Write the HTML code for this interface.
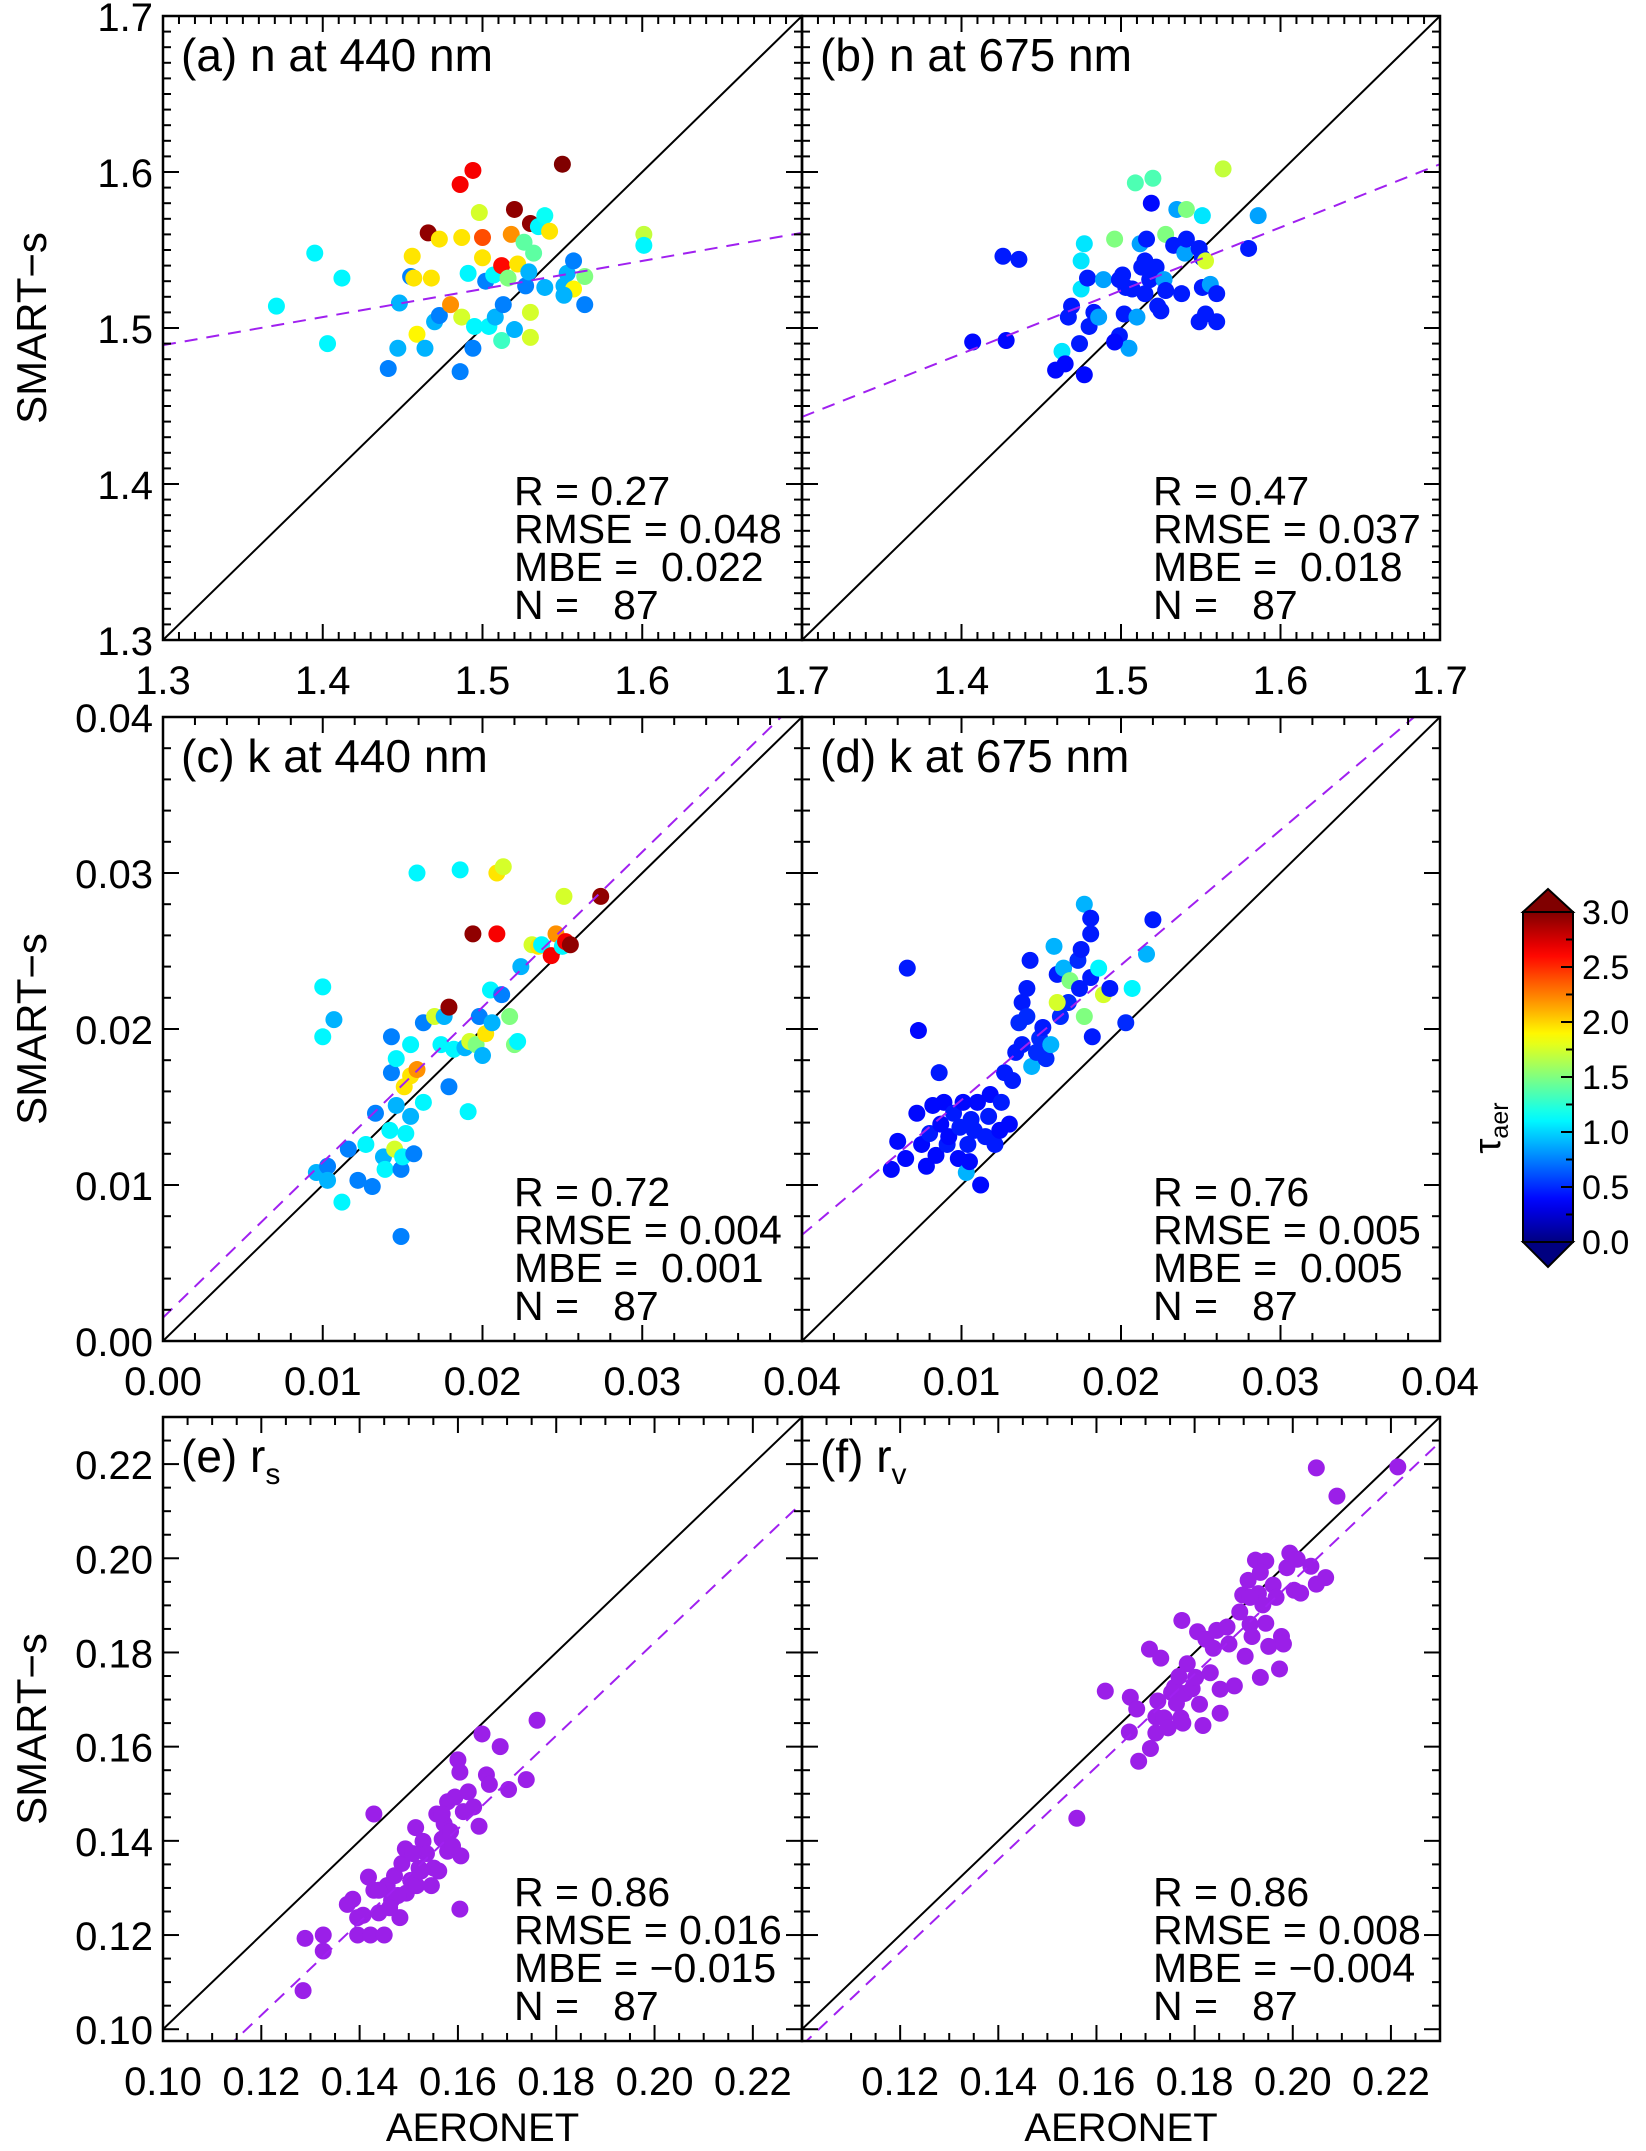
<!DOCTYPE html>
<html><head><meta charset="utf-8"><title>SMART-s vs AERONET</title>
<style>
html,body{margin:0;padding:0;background:#fff;}
svg{display:block;font-family:"Liberation Sans",sans-serif;}
</style></head>
<body>
<svg id="chart" width="1646" height="2151" viewBox="0 0 1646 2151" xmlns="http://www.w3.org/2000/svg"></svg>
<script>
// ---------- DATA ----------
const aX=[1.371,1.395,1.403,1.412,1.441,1.447,1.448,1.455,1.456,1.457,1.459,1.464,1.466,1.468,1.470,1.473,1.473,1.480,1.486,1.487,1.486,1.487,1.491,1.494,1.494,1.495,1.498,1.500,1.500,1.502,1.504,1.507,1.508,1.512,1.512,1.513,1.516,1.518,1.520,1.522,1.520,1.526,1.527,1.529,1.530,1.530,1.530,1.532,1.535,1.539,1.539,1.542,1.550,1.551,1.553,1.557,1.557,1.564,1.564,1.601,1.601,1.551];
const aY=[1.514,1.548,1.490,1.532,1.474,1.487,1.516,1.533,1.546,1.532,1.496,1.487,1.561,1.532,1.504,1.557,1.508,1.515,1.592,1.558,1.472,1.507,1.535,1.601,1.487,1.501,1.574,1.558,1.545,1.530,1.501,1.534,1.507,1.540,1.492,1.515,1.532,1.560,1.576,1.541,1.499,1.555,1.527,1.536,1.567,1.510,1.494,1.548,1.565,1.572,1.526,1.562,1.605,1.527,1.535,1.525,1.543,1.533,1.515,1.560,1.553,1.521];
const aT=[1.1,1.1,1.1,1.1,0.75,0.9,0.9,0.75,1.95,1.95,1.9,0.9,2.95,1.95,0.9,1.95,0.75,2.2,2.65,1.95,0.75,1.75,1.1,2.65,0.75,1.1,1.75,2.4,1.95,0.75,1.1,1.1,0.9,2.6,1.3,0.75,1.5,2.2,2.95,1.95,0.9,1.4,0.75,0.9,2.95,1.75,1.75,1.4,1.1,1.15,0.9,1.95,3.0,0.9,0.9,1.9,0.75,1.5,0.75,1.7,1.1,0.9];
const bX=[1.407,1.428,1.426,1.436,1.459,1.463,1.465,1.467,1.469,1.474,1.475,1.475,1.477,1.477,1.479,1.480,1.483,1.486,1.489,1.496,1.499,1.499,1.501,1.502,1.503,1.505,1.507,1.509,1.510,1.512,1.513,1.515,1.516,1.518,1.519,1.520,1.522,1.523,1.525,1.527,1.528,1.528,1.533,1.535,1.538,1.540,1.541,1.541,1.549,1.549,1.551,1.551,1.551,1.553,1.553,1.556,1.560,1.560,1.564,1.580,1.586,1.515,1.496];
const bY=[1.491,1.492,1.546,1.544,1.473,1.485,1.477,1.507,1.514,1.490,1.525,1.543,1.554,1.470,1.532,1.501,1.510,1.507,1.531,1.557,1.531,1.495,1.534,1.509,1.526,1.487,1.525,1.593,1.507,1.554,1.539,1.522,1.557,1.531,1.580,1.596,1.539,1.514,1.511,1.531,1.560,1.524,1.553,1.576,1.522,1.548,1.557,1.576,1.504,1.551,1.545,1.572,1.526,1.543,1.509,1.528,1.504,1.522,1.602,1.551,1.572,1.543,1.491];
const bT=[0.4,0.4,0.45,0.45,0.4,1.05,0.4,0.45,0.45,0.45,1.05,1.05,1.05,0.4,0.45,0.45,0.45,0.85,0.85,1.5,0.45,0.45,0.45,0.45,0.45,0.85,0.45,1.35,0.85,0.85,0.45,0.45,0.45,0.45,0.4,1.35,0.45,0.45,0.45,0.85,1.5,0.45,0.45,0.85,0.45,0.85,0.45,1.5,0.45,0.45,0.45,1.05,0.45,1.75,0.45,0.85,0.45,0.45,1.7,0.45,0.85,0.45,0.4];
const cX=[0.0100,0.0100,0.0107,0.0096,0.0103,0.0103,0.0112,0.0116,0.0122,0.0127,0.0131,0.0133,0.0138,0.0139,0.0143,0.0143,0.0142,0.0145,0.0146,0.0149,0.0149,0.0150,0.0151,0.0152,0.0155,0.0155,0.0155,0.0157,0.0159,0.0159,0.0163,0.0170,0.0174,0.0176,0.0179,0.0182,0.0186,0.0189,0.0191,0.0192,0.0194,0.0196,0.0198,0.0200,0.0202,0.0205,0.0206,0.0209,0.0209,0.0212,0.0213,0.0217,0.0220,0.0222,0.0224,0.0231,0.0235,0.0237,0.0243,0.0246,0.0250,0.0251,0.0252,0.0255,0.0274,0.0179,0.0163,0.0146];
const cY=[0.0227,0.0195,0.0206,0.0108,0.0112,0.0103,0.0089,0.0123,0.0103,0.0126,0.0099,0.0146,0.0118,0.0110,0.0172,0.0195,0.0135,0.0123,0.0151,0.0110,0.0067,0.0118,0.0163,0.0133,0.0170,0.0190,0.0144,0.0120,0.0300,0.0174,0.0204,0.0208,0.0190,0.0208,0.0214,0.0187,0.0302,0.0188,0.0147,0.0192,0.0261,0.0190,0.0208,0.0183,0.0197,0.0225,0.0204,0.0261,0.0300,0.0222,0.0304,0.0208,0.0190,0.0192,0.0240,0.0254,0.0253,0.0254,0.0247,0.0261,0.0253,0.0285,0.0256,0.0254,0.0285,0.0163,0.0153,0.0181];
const cT=[1.1,1.1,0.9,0.9,0.75,0.9,1.1,0.75,0.75,1.1,0.75,0.75,0.9,1.1,0.75,0.75,1.1,1.75,0.9,0.75,0.75,1.1,1.95,1.1,1.95,1.1,0.9,0.75,1.1,2.2,0.75,1.75,1.1,0.9,2.95,1.1,1.1,0.9,1.1,1.75,2.95,1.5,0.75,0.9,1.95,1.1,0.9,2.65,1.95,0.75,1.75,1.5,1.5,1.1,0.9,1.75,1.95,1.1,2.65,2.2,1.1,1.75,2.65,2.95,2.95,0.75,1.1,1.1];
const dX=[0.0066,0.0056,0.0060,0.0065,0.0072,0.0073,0.0075,0.0078,0.0080,0.0082,0.0084,0.0086,0.0087,0.0089,0.0091,0.0092,0.0095,0.0098,0.0099,0.0101,0.0103,0.0104,0.0105,0.0106,0.0108,0.0110,0.0112,0.0115,0.0117,0.0118,0.0121,0.0124,0.0125,0.0127,0.0130,0.0132,0.0134,0.0136,0.0138,0.0138,0.0141,0.0141,0.0143,0.0144,0.0147,0.0149,0.0151,0.0153,0.0156,0.0158,0.0160,0.0162,0.0164,0.0167,0.0160,0.0168,0.0173,0.0174,0.0175,0.0177,0.0177,0.0181,0.0181,0.0181,0.0182,0.0186,0.0189,0.0193,0.0203,0.0207,0.0216,0.0220];
const dY=[0.0239,0.0110,0.0128,0.0117,0.0146,0.0199,0.0126,0.0112,0.0133,0.0151,0.0119,0.0172,0.0139,0.0153,0.0126,0.0131,0.0146,0.0117,0.0137,0.0153,0.0108,0.0126,0.0115,0.0142,0.0135,0.0153,0.0100,0.0131,0.0144,0.0158,0.0126,0.0135,0.0153,0.0172,0.0139,0.0167,0.0185,0.0204,0.0217,0.0190,0.0208,0.0226,0.0244,0.0176,0.0185,0.0194,0.0201,0.0181,0.0190,0.0253,0.0235,0.0208,0.0239,0.0217,0.0217,0.0231,0.0244,0.0226,0.0251,0.0280,0.0208,0.0271,0.0261,0.0233,0.0195,0.0239,0.0222,0.0226,0.0204,0.0226,0.0248,0.0270];
const dT=[0.45,0.4,0.4,0.4,0.4,0.4,0.4,0.4,0.45,0.4,0.4,0.45,0.4,0.4,0.45,0.4,0.45,0.4,0.45,0.4,0.9,0.45,0.4,0.45,0.45,0.4,0.4,0.45,0.45,0.4,0.45,0.4,0.45,0.45,0.4,0.45,0.45,0.5,0.45,0.45,0.5,0.45,0.45,0.9,0.5,0.5,0.45,0.5,0.9,0.9,0.45,0.5,0.9,0.5,1.75,1.5,0.5,0.45,0.45,0.9,1.5,0.45,0.45,0.45,0.45,1.1,1.75,0.45,0.5,1.1,0.9,0.45];
const eX=[0.1285,0.1289,0.1326,0.1326,0.1375,0.1386,0.1396,0.1407,0.1418,0.1422,0.1429,0.1429,0.1439,0.1450,0.1456,0.1465,0.1471,0.1482,0.1486,0.1493,0.1495,0.1504,0.1514,0.1516,0.1521,0.1529,0.1536,0.1546,0.1551,0.1557,0.1561,0.1568,0.1572,0.1579,0.1579,0.1585,0.1594,0.1600,0.1604,0.1606,0.1604,0.1611,0.1621,0.1632,0.1643,0.1649,0.1658,0.1664,0.1686,0.1703,0.1739,0.1761,0.1439,0.1478,0.1568,0.1525,0.1589,0.1508,0.1461,0.1396];
const eY=[0.1082,0.1193,0.1200,0.1166,0.1265,0.1276,0.1200,0.1242,0.1323,0.1200,0.1457,0.1295,0.1247,0.1200,0.1305,0.1274,0.1326,0.1237,0.1352,0.1383,0.1289,0.1316,0.1428,0.1305,0.1342,0.1399,0.1373,0.1305,0.1342,0.1457,0.1336,0.1404,0.1436,0.1378,0.1483,0.1420,0.1493,0.1572,0.1546,0.1368,0.1255,0.1462,0.1504,0.1472,0.1431,0.1627,0.1540,0.1520,0.1600,0.1509,0.1530,0.1656,0.1295,0.1284,0.1457,0.1336,0.1389,0.1373,0.1258,0.1237];
const fX=[0.1560,0.1618,0.1667,0.1669,0.1682,0.1686,0.1708,0.1710,0.1721,0.1721,0.1725,0.1731,0.1738,0.1746,0.1753,0.1759,0.1763,0.1768,0.1772,0.1774,0.1776,0.1780,0.1785,0.1795,0.1802,0.1806,0.1810,0.1817,0.1823,0.1832,0.1838,0.1845,0.1852,0.1852,0.1866,0.1870,0.1881,0.1892,0.1898,0.1903,0.1909,0.1913,0.1917,0.1924,0.1930,0.1934,0.1939,0.1945,0.1945,0.1951,0.1960,0.1966,0.1973,0.1977,0.1981,0.1988,0.1994,0.2003,0.2009,0.2016,0.2037,0.2048,0.2067,0.2048,0.2090,0.2214,0.1913,0.1934];
const fY=[0.1448,0.1718,0.1631,0.1705,0.1680,0.1569,0.1807,0.1596,0.1629,0.1663,0.1697,0.1788,0.1661,0.1640,0.1715,0.1726,0.1692,0.1749,0.1661,0.1868,0.1650,0.1713,0.1776,0.1723,0.1747,0.1844,0.1690,0.1645,0.1828,0.1757,0.1809,0.1847,0.1722,0.1671,0.1854,0.1818,0.1729,0.1886,0.1922,0.1792,0.1953,0.1860,0.1834,0.1996,0.1925,0.1747,0.1901,0.1994,0.1862,0.1813,0.1943,0.1917,0.1765,0.1834,0.1818,0.1980,0.2011,0.1932,0.1998,0.1926,0.1983,0.1945,0.1959,0.2192,0.2132,0.2194,0.1917,0.1970];
// regression fit lines: y at x-domain min and max
const fitA=[1.489,1.561], fitB=[1.443,1.605], fitC=[0.0015,0.0413], fitD=[0.0068,0.0414], fitE=[0.0832,0.2118], fitF=[0.0966,0.2247];
const statsA=["R = 0.27","RMSE = 0.048","MBE =  0.022","N =   87"];
const statsB=["R = 0.47","RMSE = 0.037","MBE =  0.018","N =   87"];
const statsC=["R = 0.72","RMSE = 0.004","MBE =  0.001","N =   87"];
const statsD=["R = 0.76","RMSE = 0.005","MBE =  0.005","N =   87"];
const statsE=["R = 0.86","RMSE = 0.016","MBE = \u22120.015","N =   87"];
const statsF=["R = 0.86","RMSE = 0.008","MBE = \u22120.004","N =   87"];
const ticksN=[1.3,1.4,1.5,1.6,1.7], ticksK=[0.00,0.01,0.02,0.03,0.04], ticksR=[0.10,0.12,0.14,0.16,0.18,0.20,0.22];
const cbTicks=[0.0,0.5,1.0,1.5,2.0,2.5,3.0];

// ---------- DRAWING ----------
const NS="http://www.w3.org/2000/svg";
const svg=document.getElementById('chart');
function mk(tag,attrs,parent){const e=document.createElementNS(NS,tag);for(const k in attrs)e.setAttribute(k,attrs[k]);(parent||svg).appendChild(e);return e;}
function jet(v){const t=Math.max(0,Math.min(1,v/3));const c=x=>Math.round(255*Math.max(0,Math.min(1,x)));
 return `rgb(${c(1.5-Math.abs(4*t-3))},${c(1.5-Math.abs(4*t-2))},${c(1.5-Math.abs(4*t-1))})`;}
const PURPLE="#a020f0";
const L=163,M=802,R=1440,rows=[[16,640],[717,1341],[1417,2041]];
const panels=[
 {id:'a',x0:L,x1:M,row:0,xd:[1.3,1.7],yd:[1.3,1.7],xs:aX,ys:aY,ts:aT,fit:fitA,stats:statsA,title:'(a) n at 440 nm',maj:0.1,min:0.01,xt:ticksN,yt:ticksN,dec:1,showY:true},
 {id:'b',x0:M,x1:R,row:0,xd:[1.3,1.7],yd:[1.3,1.7],xs:bX,ys:bY,ts:bT,fit:fitB,stats:statsB,title:'(b) n at 675 nm',maj:0.1,min:0.01,xt:ticksN.slice(1),yt:[],dec:1},
 {id:'c',x0:L,x1:M,row:1,xd:[0,0.04],yd:[0,0.04],xs:cX,ys:cY,ts:cT,fit:fitC,stats:statsC,title:'(c) k at 440 nm',maj:0.01,min:0.002,xt:ticksK,yt:ticksK,dec:2,showY:true},
 {id:'d',x0:M,x1:R,row:1,xd:[0,0.04],yd:[0,0.04],xs:dX,ys:dY,ts:dT,fit:fitD,stats:statsD,title:'(d) k at 675 nm',maj:0.01,min:0.002,xt:ticksK.slice(1),yt:[],dec:2},
 {id:'e',x0:L,x1:M,row:2,xd:[0.10,0.23],yd:[0.0975,0.23],xs:eX,ys:eY,ts:null,fit:fitE,stats:statsE,title:'(e) r',sub:'s',maj:0.02,min:0.005,xt:ticksR,yt:ticksR,dec:2,showY:true,xlab:true},
 {id:'f',x0:M,x1:R,row:2,xd:[0.10,0.23],yd:[0.0975,0.23],xs:fX,ys:fY,ts:null,fit:fitF,stats:statsF,title:'(f) r',sub:'v',maj:0.02,min:0.005,xt:ticksR.slice(1),yt:[],dec:2,xlab:true}
];
panels.forEach(p=>{
 const y0=rows[p.row][0],y1=rows[p.row][1];
 const sx=v=>p.x0+(v-p.xd[0])/(p.xd[1]-p.xd[0])*(p.x1-p.x0);
 const sy=v=>y1-(v-p.yd[0])/(p.yd[1]-p.yd[0])*(y1-y0);
 const g=mk('g',{});
 
 
 const cp=mk('clipPath',{id:'clip'+p.id},g);
 mk('rect',{x:p.x0,y:y0,width:p.x1-p.x0,height:y1-y0},cp);
 const lo=Math.max(p.xd[0],p.yd[0]),hi=Math.min(p.xd[1],p.yd[1]);
 const one=mk('line',{x1:sx(lo),y1:sy(lo),x2:sx(hi),y2:sy(hi),stroke:'#000','stroke-width':2,'clip-path':`url(#clip${p.id})`},g);
 
 
 const pg=mk('g',{'clip-path':`url(#clip${p.id})`},g);
 
 
 for(let i=0;i<p.xs.length;i++){
  const c=mk('circle',{cx:sx(p.xs[i]),cy:sy(p.ys[i]),r:8.5,fill:p.ts?jet(p.ts[i]):'#9b1fe8'},pg);
  
  
 }
 const fl=mk('line',{x1:sx(p.xd[0]),y1:sy(p.fit[0]),x2:sx(p.xd[1]),y2:sy(p.fit[1]),stroke:PURPLE,'stroke-width':2,'stroke-dasharray':'13 9','clip-path':`url(#clip${p.id})`},g);
 
 
 const fr=mk('rect',{x:p.x0,y:y0,width:p.x1-p.x0,height:y1-y0,fill:'none',stroke:'#000','stroke-width':2.5},g);
 
 
 const tg=mk('g',{stroke:'#000','stroke-width':2},g);
 
 
 const nx=Math.round((p.xd[1]-p.xd[0])/p.min);
 for(let k=0;k<=nx;k++){const v=p.xd[0]+k*p.min;const r=v/p.maj;const major=Math.abs(r-Math.round(r))<1e-6;const len=major?16:8;const X=sx(v);
  mk('line',{x1:X,y1:y1,x2:X,y2:y1-len},tg);mk('line',{x1:X,y1:y0,x2:X,y2:y0+len},tg);}
 const ystart=Math.ceil(p.yd[0]/p.min-1e-6)*p.min;
 for(let v=ystart;v<=p.yd[1]+1e-9;v+=p.min){const r=v/p.maj;const major=Math.abs(r-Math.round(r))<1e-6;const len=major?16:8;const Y=sy(v);
  mk('line',{x1:p.x0,y1:Y,x2:p.x0+len,y2:Y},tg);mk('line',{x1:p.x1,y1:Y,x2:p.x1-len,y2:Y},tg);}
 p.xt.forEach(v=>{const t=mk('text',{x:sx(v),y:y1+54,'text-anchor':'middle','font-size':40},g);t.textContent=v.toFixed(p.dec);
  
  });
 p.yt.forEach(v=>{const t=mk('text',{x:p.x0-10,y:sy(v)+15,'text-anchor':'end','font-size':40},g);t.textContent=v.toFixed(p.dec);
  
  });
 const tt=mk('text',{x:p.x0+18,y:y0+55,'font-size':46},g);tt.textContent=p.title;
 if(p.sub){const s=mk('tspan',{'font-size':30,dy:12},tt);s.textContent=p.sub;}
 
 
 const st=mk('g',{'font-size':41},g);
 
 
 p.stats.forEach((s,i)=>{const t=mk('text',{x:p.x0+351,y:y0+489+i*38},st);t.setAttribute('style','white-space:pre');t.textContent=s;});
 if(p.showY){const yl=mk('text',{x:0,y:0,'font-size':42,'text-anchor':'middle',transform:`translate(46,${(y0+y1)/2}) rotate(-90)`},g);yl.textContent='SMART\u2212s';
  
  }
 if(p.xlab){const xl=mk('text',{x:(p.x0+p.x1)/2,y:2141,'font-size':40,'text-anchor':'middle'},g);xl.textContent='AERONET';
  
  }
});
// ---------- COLORBAR ----------
const cb=mk('g',{});


const cbx0=1523,cbx1=1573,cby0=912,cby1=1242;
const defs=mk('defs',{},cb);
const lg=mk('linearGradient',{id:'jetgrad',x1:0,y1:1,x2:0,y2:0},defs);
for(let i=0;i<=30;i++){mk('stop',{offset:i/30,'stop-color':jet(i/10)},lg);}
mk('rect',{x:cbx0,y:cby0,width:cbx1-cbx0,height:cby1-cby0,fill:'url(#jetgrad)',stroke:'#000','stroke-width':2},cb);
mk('polygon',{points:`${cbx0},${cby0} ${cbx1},${cby0} ${(cbx0+cbx1)/2},889`,fill:'#800000',stroke:'#000','stroke-width':2},cb);
mk('polygon',{points:`${cbx0},${cby1} ${cbx1},${cby1} ${(cbx0+cbx1)/2},1267`,fill:'#000080',stroke:'#000','stroke-width':2},cb);
const cbs=v=>cby1-v/3*(cby1-cby0);
for(let v=0;v<=3.0001;v+=0.25){const Y=cbs(v);mk('line',{x1:cbx1,y1:Y,x2:cbx1-(Math.abs(v*2-Math.round(v*2))<1e-6?12:7),y2:Y,stroke:'#000','stroke-width':2},cb);}
cbTicks.forEach(v=>{const t=mk('text',{x:1582,y:cbs(v)+12,'font-size':34},cb);t.textContent=v.toFixed(1);
 
 });
const tl=mk('text',{x:0,y:0,'font-size':38,'text-anchor':'middle',transform:'translate(1500,1128) rotate(-90)'},cb);
tl.textContent='\u03c4';
const ts=mk('tspan',{'font-size':25,dy:8},tl);ts.textContent='aer';


</script>
</body></html>
